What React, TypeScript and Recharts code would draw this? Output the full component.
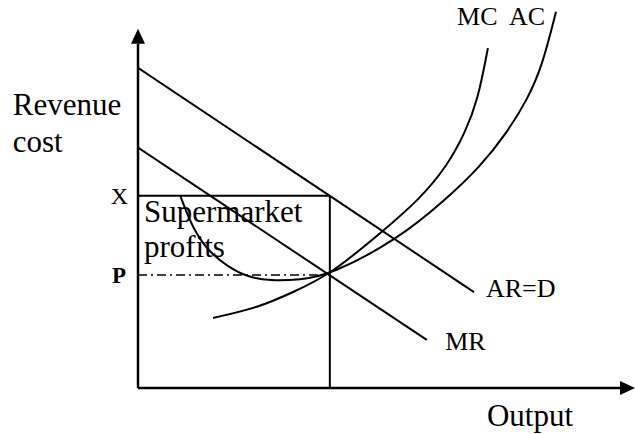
import { ComposedChart, Line, XAxis, YAxis, ReferenceLine, ReferenceDot } from 'recharts';

// price levels and output where MC = MR
const Q_STAR = 38.6;
const P_LEVEL = 31.45;
const X_LEVEL = 53.5;

const arLine = [
  { x: 0, y: 89.1 },
  { x: 67.6, y: 26.7 },
];

const mrLine = [
  { x: 0, y: 66.9 },
  { x: 58.1, y: 13.4 },
];

const mcCurve = [
  { x: 15.1, y: 19.5 },
  { x: 24.5, y: 22.5 },
  { x: 31.2, y: 26.7 },
  { x: 38.6, y: 31.45 },
  { x: 49.3, y: 43.7 },
  { x: 56.7, y: 52.6 },
  { x: 62.2, y: 61.8 },
  { x: 65.8, y: 71.0 },
  { x: 68.4, y: 80.2 },
  { x: 70.4, y: 94.6 },
];

const acCurve = [
  { x: 8.45, y: 53.7 },
  { x: 11.1, y: 44.0 },
  { x: 14.5, y: 37.6 },
  { x: 17.9, y: 34.0 },
  { x: 21.9, y: 30.9 },
  { x: 26.6, y: 29.8 },
  { x: 32.6, y: 30.1 },
  { x: 38.6, y: 31.45 },
  { x: 52.1, y: 41.2 },
  { x: 61.8, y: 52.3 },
  { x: 68.8, y: 61.5 },
  { x: 74.2, y: 71.0 },
  { x: 78.3, y: 80.2 },
  { x: 81.3, y: 89.4 },
  { x: 84.1, y: 104.7 },
];

const labels = [
  { text: 'MC  AC', x: 64.2, y: 101.0, size: 26 },
  { text: 'AR=D', x: 70.0, y: 25.3, size: 26 },
  { text: 'MR', x: 61.8, y: 10.6, size: 26 },
  { text: 'Output', x: 70.2, y: -10.5, size: 31 },
  { text: 'Revenue', x: -25.2, y: 76.0, size: 31 },
  { text: 'cost', x: -25.2, y: 65.7, size: 31 },
  { text: 'Supermarket', x: 1.2, y: 46.2, size: 31 },
  { text: 'profits', x: 1.2, y: 36.5, size: 31 },
];

const FONT = '"Liberation Serif", "Times New Roman", serif';

const arrowAxis = (props: any) => {
  const { x1, y1, x2, y2 } = props;
  const len = Math.hypot(x2 - x1, y2 - y1) || 1;
  const ux = (x2 - x1) / len;
  const uy = (y2 - y1) / len;
  const bx = x2 - ux * 15;
  const by = y2 - uy * 15;
  const pts = `${x2},${y2} ${bx - uy * 7},${by + ux * 7} ${bx + uy * 7},${by - ux * 7}`;
  return (
    <g>
      <line x1={x1} y1={y1} x2={bx} y2={by} stroke="#000" strokeWidth={2.5} />
      <polygon points={pts} fill="#000" />
    </g>
  );
};

const textShape = (text: string, size: number, anchor = 'start', dx = 0, dy = 0, bold = false) => (p: any) => (
  <text
    x={p.cx + dx}
    y={p.cy + dy}
    fontFamily={FONT}
    fontSize={size}
    fontWeight={bold ? 'bold' : 'normal'}
    textAnchor={anchor}
    fill="#000"
    style={{ whiteSpace: 'pre' }}
  >
    {text}
  </text>
);

export default function App() {
  return (
    <div style={{ position: 'absolute', left: 0, top: 0, background: '#fff' }}>
      <ComposedChart width={635} height={434} margin={{ top: 0, right: 0, left: 138, bottom: 46 }}>
        <XAxis type="number" dataKey="x" domain={[0, 100]} hide allowDataOverflow />
        <YAxis type="number" dataKey="y" domain={[0, 108]} hide allowDataOverflow />

        <ReferenceLine segment={[{ x: 0, y: 0 }, { x: 0, y: 100 }]} shape={arrowAxis} />
        <ReferenceLine segment={[{ x: 0, y: 0 }, { x: 100, y: 0 }]} shape={arrowAxis} />

        <ReferenceLine segment={[{ x: 0, y: X_LEVEL }, { x: Q_STAR, y: X_LEVEL }]} stroke="#000" strokeWidth={2} />
        <ReferenceLine segment={[{ x: Q_STAR, y: X_LEVEL }, { x: Q_STAR, y: 0 }]} stroke="#000" strokeWidth={2} />
        <ReferenceLine
          segment={[{ x: 0, y: P_LEVEL }, { x: Q_STAR, y: P_LEVEL }]}
          stroke="#000"
          strokeWidth={1.5}
          strokeDasharray="9 4 2 4"
        />

        <Line data={arLine} dataKey="y" type="linear" stroke="#000" strokeWidth={2} dot={false} isAnimationActive={false} />
        <Line data={mrLine} dataKey="y" type="linear" stroke="#000" strokeWidth={2} dot={false} isAnimationActive={false} />
        <Line data={mcCurve} dataKey="y" type="basis" stroke="#000" strokeWidth={2} dot={false} isAnimationActive={false} />
        <Line data={acCurve} dataKey="y" type="basis" stroke="#000" strokeWidth={2} dot={false} isAnimationActive={false} />

        <ReferenceDot x={0} y={X_LEVEL} r={0} ifOverflow="visible" shape={textShape('X', 24, 'end', -10, 8)} />
        <ReferenceDot x={0} y={P_LEVEL} r={0} ifOverflow="visible" shape={textShape('P', 23, 'end', -12, 8, true)} />
        {labels.map((l) => (
          <ReferenceDot key={l.text} x={l.x} y={l.y} r={0} ifOverflow="visible" shape={textShape(l.text, l.size)} />
        ))}
      </ComposedChart>
    </div>
  );
}
